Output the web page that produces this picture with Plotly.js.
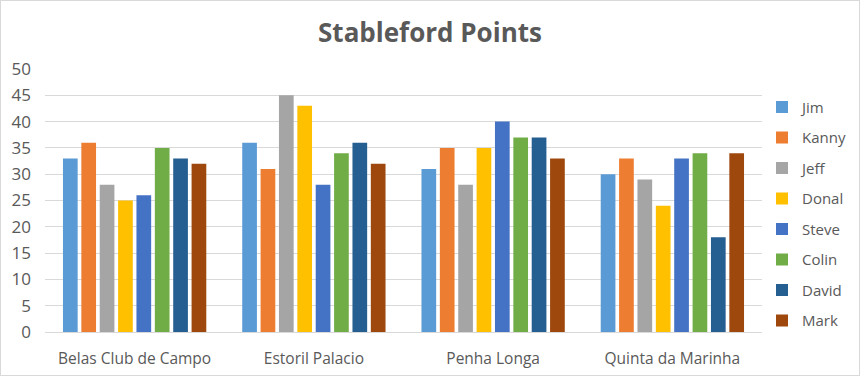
<!DOCTYPE html>
<html><head><meta charset="utf-8">
<script src="https://cdn.plot.ly/plotly-3.0.1.min.js"></script>
<style>html,body{margin:0;padding:0;background:#fff}#chart{width:860px;height:376px;box-sizing:border-box;border:1px solid #d9d9d9}</style>
</head><body><div id="chart"></div>
<script>
const categories = ["Belas Club de Campo", "Estoril Palacio", "Penha Longa", "Quinta da Marinha"];
const players = ["Jim", "Kanny", "Jeff", "Donal", "Steve", "Colin", "David", "Mark"];
const jim   = [33, 36, 31, 30];
const kanny = [36, 31, 35, 33];
const jeff  = [28, 45, 28, 29];
const donal = [25, 43, 35, 24];
const steve = [26, 28, 40, 33];
const colin = [35, 34, 37, 34];
const david = [33, 36, 37, 18];
const mark  = [32, 32, 33, 34];
const seriesValues = [jim, kanny, jeff, donal, steve, colin, david, mark];
const colors = ["#5B9BD5", "#ED7D31", "#A5A5A5", "#FFC000", "#4472C4", "#70AD47", "#255E91", "#9E480E"];
const yTicks = [0, 5, 10, 15, 20, 25, 30, 35, 40, 45, 50];

const traces = players.map((p, i) => ({
  type: "bar", name: p, x: categories, y: seriesValues[i],
  marker: {color: colors[i]}, legendgroup: p, hoverinfo: "y+name"
}));

const layout = {
  width: 858, height: 374,
  margin: {l: 44, r: 97, t: 68, b: 43, pad: 0, autoexpand: false},
  paper_bgcolor: "#fff", plot_bgcolor: "#fff",
  font: {family: "Open Sans, Liberation Sans, sans-serif", color: "#595959", size: 14},
  title: {text: "<b>Stableford Points</b>", x: 0.5, xanchor: "center", y: 0.915, yanchor: "middle",
          font: {size: 26, color: "#595959", family: "Open Sans, sans-serif"}},
  barmode: "group", bargap: 0.18, bargroupgap: 0.2,
  xaxis: {showgrid: false, showline: true, linecolor: "#d9d9d9", linewidth: 1, ticks: "",
          tickfont: {size: 15.5, color: "#595959"}, ticklabelstandoff: 12, fixedrange: true},
  yaxis: {range: [0, 50], tickvals: yTicks, showgrid: true, gridcolor: "#d9d9d9", gridwidth: 1,
          zeroline: false, showline: false, ticks: "", tickfont: {size: 17, color: "#595959"},
          ticklabelstandoff: 13, fixedrange: true},
  legend: {x: 1.0, xanchor: "left", y: 0.45, yanchor: "middle", traceorder: "grouped",
           tracegroupgap: 8, font: {size: 15, color: "#595959"}, itemwidth: 30, bgcolor: "rgba(0,0,0,0)"},
  showlegend: true
};
Plotly.newPlot("chart", traces, layout, {displayModeBar: false, staticPlot: true});
</script></body></html>
